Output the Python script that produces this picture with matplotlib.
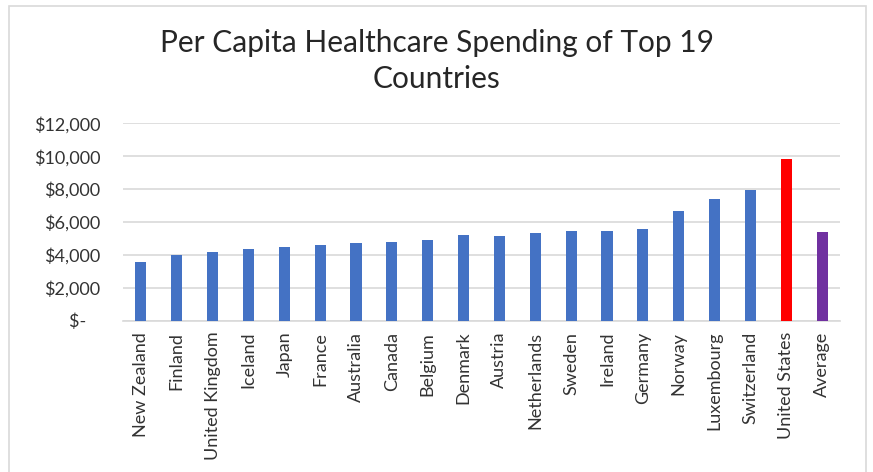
import matplotlib
matplotlib.use("Agg")
import matplotlib.pyplot as plt
from matplotlib.patches import Rectangle

plt.rcParams['font.family'] = ['Lato', 'DejaVu Sans']

countries = ["New Zealand", "Finland", "United Kingdom", "Iceland", "Japan",
             "France", "Australia", "Canada", "Belgium", "Denmark", "Austria",
             "Netherlands", "Sweden", "Ireland", "Germany", "Norway",
             "Luxembourg", "Switzerland", "United States", "Average"]
spending = [3590, 3990, 4190, 4380, 4500, 4600, 4710, 4800, 4900, 5180,
            5150, 5340, 5450, 5450, 5550, 6640, 7420, 7930, 9800, 5410]
ytick_values = [0, 2000, 4000, 6000, 8000, 10000, 12000]
ytick_labels = ["$-   ", "$2,000", "$4,000", "$6,000", "$8,000", "$10,000", "$12,000"]

colors = ["#4472C4"] * len(countries)
colors[countries.index("United States")] = "#FF0000"
colors[countries.index("Average")] = "#7030A0"

text_col = "#333333"
grid_col = "#d9d9d9"

fig = plt.figure(figsize=(8.73, 4.72), dpi=100)
ax = fig.add_axes([123 / 873, 1 - 320.7 / 472, 717 / 873, 197.4 / 472])

x = range(len(countries))
ax.bar(x, spending, width=0.31, color=colors, zorder=3)

ax.set_xlim(-0.5, len(countries) - 0.5)
ax.set_ylim(0, 12000)
ax.set_yticks(ytick_values)
ax.set_yticklabels(ytick_labels)
ax.set_xticks(list(x))
ax.set_xticklabels(countries, rotation=90)
ax.tick_params(axis='y', length=0, pad=16.5, labelsize=13, labelcolor=text_col)
ax.tick_params(axis='x', length=0, pad=8, labelsize=13, labelcolor=text_col)

ax.grid(axis='y', color=grid_col, linewidth=1.2, zorder=0)
for side in ["top", "right", "left"]:
    ax.spines[side].set_visible(False)
ax.spines["bottom"].set_color(grid_col)
ax.spines["bottom"].set_linewidth(1.2)

fig.text(437 / 873, 1 - 52 / 472, "Per Capita Healthcare Spending of Top 19",
         ha="center", va="baseline", fontsize=21.5, color="#262626")
fig.text(437 / 873, 1 - 88 / 472, "Countries",
         ha="center", va="baseline", fontsize=21.5, color="#262626")

# chart border
fig.patches.append(Rectangle((9 / 873, -0.05), 857 / 873, 1.05 - 6 / 472,
                             transform=fig.transFigure, fill=False,
                             edgecolor=grid_col, linewidth=1.2))

plt.savefig("out.png", dpi=100)
